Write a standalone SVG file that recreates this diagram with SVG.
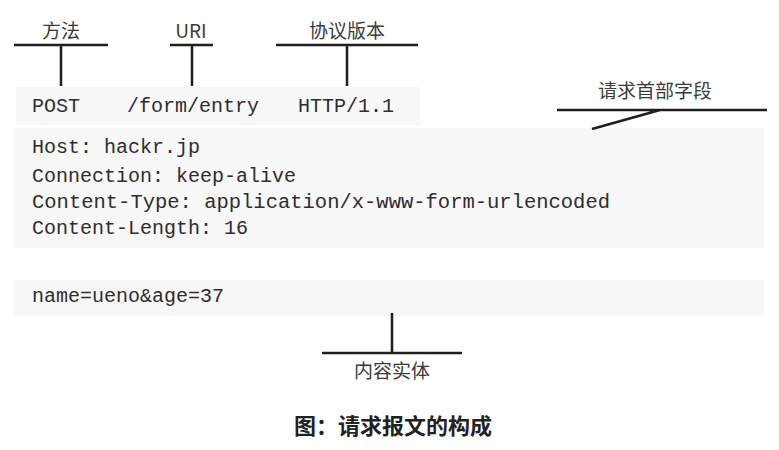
<svg xmlns="http://www.w3.org/2000/svg" width="779" height="450" viewBox="0 0 779 450">
<style>
.lbl{font-family:"Noto Sans CJK SC","Liberation Sans",sans-serif;font-size:19px;fill:#3a3a3a;text-anchor:middle}
.code{font-family:"Liberation Mono","Noto Sans CJK SC",monospace;font-size:20px;fill:#2e2e2e}
.ln{stroke:#1e1e1e;stroke-width:2.5;fill:none}
.band{fill:#f7f7f7}
.cap{font-family:"Noto Sans CJK SC",sans-serif;font-size:22px;font-weight:bold;fill:#222;text-anchor:middle}
</style>
<rect width="779" height="450" fill="#fff"/>
<g id="bands">
<rect class="band" x="16" y="87" width="404" height="38"/>
<rect class="band" x="14" y="128" width="750" height="120"/>
<rect class="band" x="14" y="280" width="750" height="36"/>
</g>
<g id="connectors">
<path class="ln" d="M14 45H108M61 45V86"/>
<path class="ln" d="M170 45H213M192 45V86"/>
<path class="ln" d="M276 45H418M347 45V86"/>
<path class="ln" d="M557 110H767M592 129L660 110"/>
<path class="ln" d="M322 353H462M392 313V353"/>
</g>
<g id="method"><text class="lbl" x="61" y="38">方法</text></g>
<g id="uri"><text class="lbl" x="191" y="38">URI</text></g>
<g id="version"><text class="lbl" x="347" y="38">协议版本</text></g>
<g id="headers-label"><text class="lbl" x="655" y="98">请求首部字段</text></g>
<g id="body-label"><text class="lbl" x="392" y="378">内容实体</text></g>
<g id="request-line">
<text class="code" x="32" y="112">POST</text>
<text class="code" x="127" y="112">/form/entry</text>
<text class="code" x="298" y="112">HTTP/1.1</text>
</g>
<g id="headers">
<text class="code" x="32" y="153">Host: hackr.jp</text>
<text class="code" x="32" y="182">Connection: keep-alive</text>
<text class="code" x="32" y="208" textLength="578" lengthAdjust="spacingAndGlyphs">Content-Type: application/x-www-form-urlencoded</text>
<text class="code" x="32" y="234">Content-Length: 16</text>
</g>
<g id="body"><text class="code" x="32" y="302">name=ueno&amp;age=37</text></g>
<g id="caption"><text class="cap" x="393" y="434">图：请求报文的构成</text></g>
</svg>
